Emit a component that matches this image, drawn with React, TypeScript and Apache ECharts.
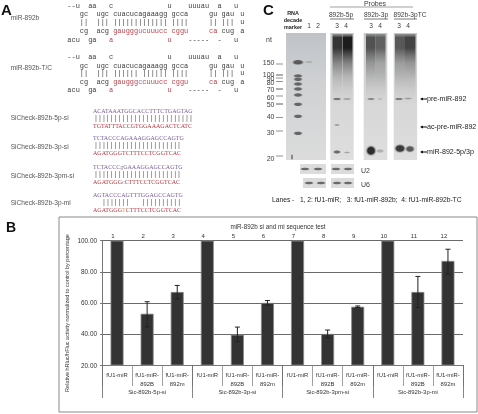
import React, { useEffect, useRef } from "react";
import * as echarts from "echarts";

const SANS = "Liberation Sans";
const MONO = "Liberation Mono";
const SERIF = "Liberation Serif";
const GREY = "#3c3c3c";
const RED = "#b5424a";
const BLUE = "#6a78c8";
const PURPLE = "#7a5a9a";
const SEQRED = "#b8343c";

// ---- Panel B data ----
const laneNumbers = ["1", "2", "3", "4", "5", "6", "7", "8", "9", "10", "11", "12"];
const constructs = ["fU1-miR", "fU1-miR-\n892B", "fU1-miR-\n892m", "fU1-miR", "fU1-miR-\n892B", "fU1-miR-\n892m", "fU1-miR", "fU1-miR-\n892B", "fU1-miR-\n892m", "fU1-miR", "fU1-miR-\n892B", "fU1-miR-\n892m"];
const sensors = ["Sic-892b-5p-si", "Sic-892b-3p-si", "Sic-892b-3pm-si", "Sic-892b-3p-mi"];
const activity = [100, 53, 67, 100, 39.5, 60, 100, 40, 57.5, 100, 67, 87];
const errorLow = [null, 44.5, 62.5, null, 35, 58.5, null, 37.5, 57, null, 57, 78.5];
const errorHigh = [null, 60.7, 71.2, null, 44.4, 61.5, null, 42.5, 58, null, 77, 94.5];

// ---- Panel A text ----
type Seg = [number, string, string?];
const hairpinTop: [number, Seg[]][] = [
  [0, [[0, "--u"], [5, "aa"], [10, "c"], [24, "u"], [29, "uuuau"], [36, "a"], [40, "u"]]],
  [8.3, [[3, "gc"], [7, "ugc"], [11, "cuacucagaaagg"], [25, "gcca"], [34, "gu"], [37, "gau"], [41.5, "u"]]],
  [16.3, [[3, "||"], [7, "|||"], [11, "|||||||||||||"], [25, "||||"], [34, "||"], [37, "|||"], [41.5, "u"]]],
  [25.3, [[3, "cg"], [7, "acg"], [11, "gauggg", RED], [17, "u", BLUE], [18, "cuuucc", RED], [25, "cggu", RED], [34, "ca", RED], [37, "cug"], [41.5, "a"]]],
  [34.3, [[0, "acu"], [5, "ga"], [10, "a", RED], [24, "u", RED], [29, "-----"], [36, "-"], [40, "u"]]],
];
const hairpinBottom: [number, Seg[]][] = [
  [0, [[0, "--u"], [5, "aa"], [10, "c"], [24, "u"], [29, "uuuau"], [36, "a"], [40, "u"]]],
  [8.6, [[3, "gc"], [7, "ugc"], [11, "cuacuc"], [17, "agaaagg"], [25, "gcca"], [34, "gu"], [37, "gau"], [41.5, "u"]]],
  [16, [[3, "||"], [7, "|||"], [11, "||||||"], [18, "||||||"], [25, "||||"], [34, "||"], [37, "|||"], [41.5, "u"]]],
  [25, [[3, "cg"], [7, "acg"], [11, "gauggg", RED], [17, "c", BLUE], [18, "cuuucc", RED], [25, "cggu", RED], [34, "ca", RED], [37, "cug"], [41.5, "a"]]],
  [33, [[0, "acu"], [5, "ga"], [10, "a", RED], [24, "u", RED], [29, "-----"], [36, "-"], [40, "u"]]],
];
const rowLabels: [string, number][] = [
  ["miR-892b", 17], ["miR-892b-T/C", 67], ["SiCheck-892b-5p-si", 117],
  ["SiCheck-892b-3p-si", 146], ["SiCheck-892b-3pm-si", 175], ["SiCheck-892b-3p-mi", 202],
];
const duplexes: [number, string, string, string][] = [
  [111, "{p|ACATAAATGGCACCTTTCTGAGTAG}", "|||||||||||||||||||||||||", "{r|TGTATTTACCGTGGAAAGACTCATC}"],
  [138, "{p|TCTACCCAGAAAGGAGCCAGTG}", "||||||||||||||||||||||", "{r|AGATGGGTCTTTCCTCGGTCAC}"],
  [167, "{p|TCTACCC}{g|g}{p|GAAAGGAGCCAGTG}", "||||||||||||||||||||||", "{r|AGATGGG}{g|c}{r|CTTTCCTCGGTCAC}"],
  [195, "{p|AGTACCCAGTTTGGAGCCAGTG}", "  |||||||   ||||||||||", "{r|AGATGGG}{o|T}{r|CTTTCCTCGGTCAC}"],
];

// ---- Panel C text and bands ----
const ladderSizes = ["150", "100", "90", "80", "70", "60", "50", "40", "30", "20"];
const ladderLabelY = [62, 74, 78, 82.5, 89, 97, 104, 116, 132, 158];
const ladderTickY = [64, 75, 78, 81.5, 89, 96, 104, 117.5, 131, 156];
const ladderBandY = [62.3, 76, 79.3, 84, 89, 95, 104.3, 116.3, 133.3];
const laneTitles: [string, string, number][] = [
  ["1", "2", 309], ["3", "4", 337], ["3", "4", 371], ["3", "4", 399],
];

function text(t: string, x: number, y: number, o: any = {}) {
  const { rotation, z, ...style } = o;
  const align = o.align || "left";
  return {
    type: "text", x, y, rotation, z: z ?? 20, silent: true,
    style: {
      text: t, fontFamily: SANS, fontSize: 6.5, fill: GREY,
      textAlign: align, verticalAlign: "middle", textVerticalAlign: "middle", ...style,
    },
  };
}
const rect = (x: number, y: number, w: number, h: number, fill: any, z = 5) => ({ type: "rect", silent: true, z, shape: { x, y, width: w, height: h }, style: { fill } });
const line = (x1: number, y1: number, x2: number, y2: number, stroke = "#555", lineWidth = 1) => ({ type: "line", silent: true, z: 15, shape: { x1, y1, x2, y2 }, style: { stroke, lineWidth } });
const vgrad = (stops: [number, string][]) => ({ type: "linear", x: 0, y: 0, x2: 0, y2: 1, colorStops: stops.map(([offset, color]) => ({ offset, color })) });
const blob = (cx: number, cy: number, rx: number, ry: number, color: string, z = 9) => ({
  type: "ellipse", silent: true, z, shape: { cx, cy, rx, ry },
  style: { fill: { type: "radial", x: 0.5, y: 0.5, r: 0.5, colorStops: [{ offset: 0, color }, { offset: 0.55, color }, { offset: 1, color: "rgba(200,200,200,0)" }] } },
});
const smear = (x: number, w: number, dark: string, mid: string) => rect(x, 34, w, 70, vgrad([[0, "rgba(110,110,110,0.6)"], [0.05, dark], [0.2, dark], [0.42, mid], [0.62, "rgba(120,120,120,0.3)"], [1, "rgba(190,190,190,0)"]]), 7);

function hairpinRows(rows: [number, Seg[]][], y0: number) {
  const cw = 4.17, x0 = 67.3, out: any[] = [];
  rows.forEach(([dy, segs]) => segs.forEach(([col, s, c]) =>
    out.push(text(s, x0 + col * cw, y0 + dy, { fontFamily: MONO, fontSize: 6.95, fill: c || GREY }))));
  return out;
}

function gelGraphics() {
  const out: any[] = [];
  const gelBg = vgrad([[0, "#c6c8ca"], [0.5, "#d6d6d6"], [1, "#dedede"]]);
  out.push(rect(286, 33, 40, 127, vgrad([[0, "#bfc3c8"], [0.4, "#cfd1d3"], [1, "#dcdcdc"]])));
  [[330.3, 23.4], [363.7, 23.6], [393.7, 23.4]].forEach(([x, w]) => out.push(rect(x, 33, w, 127, gelBg)));
  ladderBandY.forEach((y, i) => out.push(blob(298, y, i === 0 ? 7 : 5.5, i === 0 ? 3.2 : 2.4, i === 0 ? "#5a5a5a" : "#666")));
  out.push(blob(309, 62, 5, 1.5, "rgba(170,170,170,0.8)"));
  out.push(blob(292, 157, 1.6, 3.5, "#8a8a8a"));
  // lane smears
  out.push(smear(332.5, 9.5, "rgba(45,45,45,0.95)", "rgba(105,105,105,0.7)"));
  out.push(smear(342.5, 10, "rgba(25,25,25,0.98)", "rgba(100,100,100,0.7)"));
  out.push(smear(366, 9.5, "rgba(75,75,75,0.95)", "rgba(120,120,120,0.65)"));
  out.push(smear(375.5, 10, "rgba(85,85,85,0.9)", "rgba(135,135,135,0.6)"));
  out.push(smear(395, 10, "rgba(75,75,75,0.9)", "rgba(125,125,125,0.6)"));
  out.push(smear(405, 10.5, "rgba(60,60,60,0.95)", "rgba(120,120,120,0.65)"));
  // product bands
  const bands: [number, number, number, number, string][] = [
    [337, 99, 5, 1.8, "#777"], [347, 99, 5, 1.5, "#a8a8a8"], [337, 125, 3.5, 1.2, "#a5a5a5"],
    [337, 152, 4.5, 2.2, "#6a6a6a"], [347, 152.5, 3.5, 1.3, "#a5a5a5"],
    [371, 99, 4.5, 1.7, "#8a8a8a"], [380, 99, 3.5, 1, "#bcbcbc"], [371, 150.7, 6, 6, "#2c2c2c"], [380, 151, 4.5, 2.2, "#b0b0b0"],
    [399, 99, 5, 1.7, "#808080"], [408, 98.5, 5, 1.4, "#a0a0a0"], [400, 148.5, 6.5, 5, "#3a3a3a"], [410, 149, 5.5, 4, "#5a5a5a"],
  ];
  bands.forEach(([x, y, rx, ry, c]) => out.push(blob(x, y, rx, ry, c)));
  // loading-control strips
  [[300, 26, 164, 174], [331, 23, 164, 174], [303, 23, 178, 188], [331, 23, 178, 188]].forEach(([x, w, y0, y1]) => out.push(rect(x, y0, w, y1 - y0, "#dcdcdc")));
  [[305, 169], [318, 169], [336, 169], [348, 169], [309, 183], [321, 183], [337, 183], [348, 183]].forEach(([x, y]) => out.push(blob(x, y, 5.5, 1.9, "#6a6a6a")));
  return out;
}

function allGraphics() {
  const g: any[] = [];
  g.push({ type: "rect", silent: true, z: 0, shape: { x: 59, y: 217, width: 418, height: 195 }, style: { fill: "#fff", stroke: "#8a8a8a", lineWidth: 1 } });
  g.push(text("A", 1, 9, { fontSize: 15, fontWeight: "bold", fill: "#111" }));
  g.push(text("B", 6, 227, { fontSize: 14, fontWeight: "bold", fill: "#111" }));
  g.push(text("C", 263, 9, { fontSize: 15, fontWeight: "bold", fill: "#111" }));
  rowLabels.forEach(([t, y]) => g.push(text(t, 10.7, y, { fontSize: 6.6, fill: "#555" })));
  g.push(...hairpinRows(hairpinTop, 5.7), ...hairpinRows(hairpinBottom, 57));
  const rich = {
    p: { fill: PURPLE, fontFamily: SERIF, fontSize: 6 }, r: { fill: SEQRED, fontFamily: SERIF, fontSize: 6 },
    g: { fill: "#8a8a8a", fontFamily: SERIF, fontSize: 6 }, o: { fill: "#d89050", fontFamily: SERIF, fontSize: 6 },
  };
  duplexes.forEach(([y, top, pipes, bottom]) => {
    g.push(text(top, 93, y, { rich, fontFamily: SERIF, fontSize: 6 }));
    g.push(text(pipes.trimStart(), 94 + (pipes.length - pipes.trimStart().length) * 4, y + 7, { fontFamily: MONO, fontSize: 6.6, fill: "#555" }));
    g.push(text(bottom, 93, y + 14.6, { rich, fontFamily: SERIF, fontSize: 6 }));
  });
  // Panel C
  g.push(...gelGraphics());
  ["RNA", "decade", "marker"].forEach((t, i) => g.push(text(t, 293, 13 + i * 7, { align: "center", textAlign: "center", fontSize: 5.4, fill: "#222", fontWeight: "bold" })));
  g.push(text("nt", 266, 39, { fontSize: 7 }));
  ladderSizes.forEach((s, i) => {
    g.push(text(s, 274.5, ladderLabelY[i], { textAlign: "right", fontSize: 7 }));
    g.push(line(276, ladderTickY[i], 283, ladderTickY[i], i === 1 || i === 4 || i === 6 ? "#333" : "#777", 0.8));
  });
  g.push(text("Probes", 375, 3.8, { textAlign: "center", fontSize: 7 }));
  g.push(line(330, 7, 413, 7, "#888", 0.8));
  [["892b-5p", 341, 330, 354], ["892b-3p", 376, 364, 388], ["892b-3pTC", 410, 394, 417]].forEach(([t, c, a, b]: any) => {
    g.push(text(t, c, 14, { textAlign: "center", fontSize: 6.6 }));
    g.push(line(a, 19, b, 19, "#555", 0.8));
  });
  laneTitles.forEach(([a, b, x]) => {
    g.push(text(a, x, 25, { textAlign: "center", fontSize: 6.6 }));
    g.push(text(b, x + 9, 25, { textAlign: "center", fontSize: 6.6 }));
  });
  g.push(text("U2", 361, 170, { fontSize: 7 }), text("U6", 361, 184, { fontSize: 7 }));
  g.push(text("Lanes -   1, 2: fU1-miR;   3: fU1-miR-892b;  4: fU1-miR-892b-TC", 272, 199, { fontSize: 6.7, fill: "#222" }));
  ([["pre-miR-892", 99], ["ac-pre-miR-892", 127], ["miR-892-5p/3p", 152]] as [string, number][]).forEach(([t, y]) => {
    g.push(text(t, 427, y, { fontSize: 7.1, fill: "#222" }));
    g.push(line(421, y, 427, y, "#111", 1));
    g.push({ type: "polygon", silent: true, z: 15, shape: { points: [[420, y], [423, y - 1.5], [423, y + 1.5]] }, style: { fill: "#111" } });
  });
  // Panel B extras
  g.push(text("miR-892b si and mi sequence test", 278, 226.7, { textAlign: "center", fontSize: 6.3, fill: "#333" }));
  g.push(text("Relative hRluc/hFluc activity normalized to control by percentage", 67, 313, { textAlign: "center", rotation: Math.PI / 2, fontSize: 5.5, fill: "#333" }));
  return g;
}

export default function App() {
  const ref = useRef<HTMLDivElement>(null);
  useEffect(() => {
    document.body.style.margin = "0";
    const chart = echarts.init(ref.current!, undefined, { renderer: "svg", width: 478, height: 414 });
    const axisText = { fontFamily: SANS, fontSize: 5.9, color: "#333" };
    chart.setOption({
      animation: false,
      backgroundColor: "#fff",
      grid: { left: 102, right: 15, top: 240.7, bottom: 49, containLabel: false },
      xAxis: [
        {
          type: "category", data: constructs, position: "bottom",
          axisLine: { show: true, lineStyle: { color: "#777", width: 1 } },
          axisTick: { show: true, length: 21, lineStyle: { color: "#888", width: 0.8 } },
          axisLabel: { ...axisText, interval: 0, margin: 5, lineHeight: 9.5, hideOverlap: false },
          splitLine: { show: false },
        },
        {
          type: "category", data: laneNumbers, position: "top",
          axisLine: { show: false }, axisTick: { show: false },
          axisLabel: { ...axisText, fontSize: 6, interval: 0, margin: 2, padding: [0, 8, 0, 0] },
        },
        {
          type: "category", data: sensors, position: "bottom",
          axisLine: { show: false },
          axisTick: { show: true, length: 33, lineStyle: { color: "#666", width: 0.8 } },
          axisLabel: { ...axisText, interval: 0, margin: 24 },
        },
      ],
      yAxis: {
        type: "value", min: 20, max: 100, interval: 20,
        axisLine: { show: true, lineStyle: { color: "#777", width: 1 } },
        axisTick: { show: true, length: 2, lineStyle: { color: "#777" } },
        axisLabel: { ...axisText, fontSize: 6.4, margin: 5, formatter: (v: number) => v.toFixed(2) },
        splitLine: { show: true, lineStyle: { color: "#6a6a6a", width: 1 } },
      },
      series: [
        {
          type: "bar", data: activity, barWidth: 13, xAxisIndex: 0,
          itemStyle: { color: "#333333", borderColor: "#8a8a8a", borderWidth: 0.8 },
          silent: true, z: 3,
        },
        {
          type: "custom", xAxisIndex: 0, z: 4, silent: true,
          data: activity.map((_, i) => [i, errorLow[i], errorHigh[i]]),
          encode: { x: 0, y: [1, 2] },
          renderItem: (_p: any, api: any) => {
            if (api.value(1) == null || isNaN(api.value(1))) return null;
            const lo = api.coord([api.value(0), api.value(1)]);
            const hi = api.coord([api.value(0), api.value(2)]);
            const style = { stroke: "#222", lineWidth: 1, fill: "none" };
            const seg = (x1: number, y1: number, x2: number, y2: number) => ({ type: "line", shape: { x1, y1, x2, y2 }, style });
            return {
              type: "group",
              children: [seg(lo[0], lo[1], hi[0], hi[1]), seg(lo[0] - 2.5, lo[1], lo[0] + 2.5, lo[1]), seg(hi[0] - 2.5, hi[1], hi[0] + 2.5, hi[1])],
            };
          },
        },
      ],
      graphic: { elements: allGraphics() },
    });
    return () => chart.dispose();
  }, []);
  return <div ref={ref} style={{ position: "absolute", left: 0, top: 0, width: 478, height: 414, filter: "blur(0.35px)" }} />;
}
